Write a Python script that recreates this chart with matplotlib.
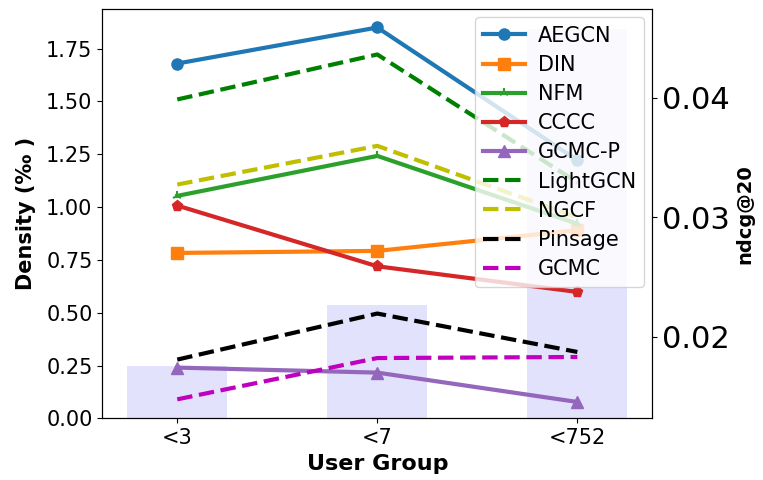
import matplotlib
matplotlib.use("Agg")
import matplotlib.pyplot as plt
import numpy as np

groups = ["<3", "<7", "<752"]
density = [0.247, 0.536, 1.845]

aegcn = [0.04288, 0.04590, 0.03478]
din = [0.02701, 0.02718, 0.02891]
nfm = [0.03179, 0.03514, 0.02945]
cccc = [0.03098, 0.02589, 0.02374]
gcmc_p = [0.01740, 0.01698, 0.01452]
lightgcn = [0.03987, 0.04364, 0.03292]
ngcf = [0.03274, 0.03598, 0.03000]
pinsage = [0.01807, 0.02193, 0.01871]
gcmc = [0.01474, 0.01820, 0.01829]

x = np.arange(len(groups))

fig = plt.figure(figsize=(7.63, 4.8), dpi=100)
ax = fig.add_axes([0.134, 0.1285, 0.721, 0.8525])
ax.bar(x, density, width=0.5, color="#e2e2fc")
ax.set_ylabel("Density (‰ )", fontsize=15, fontweight="bold", labelpad=7)
ax.set_xlabel("User Group", fontsize=16, fontweight="bold", labelpad=4)
ax.set_xticks(x)
ax.set_xticklabels(groups)
ax.tick_params(axis="both", labelsize=15)

ax2 = ax.twinx()
lw = 3
ax2.plot(x, aegcn, color="tab:blue", marker="o", lw=lw, ms=8, label="AEGCN")
ax2.plot(x, din, color="tab:orange", marker="s", lw=lw, ms=8, label="DIN")
ax2.plot(x, nfm, color="tab:green", marker="2", lw=lw, ms=7, mew=1.5, label="NFM")
ax2.plot(x, cccc, color="tab:red", marker="p", lw=lw, ms=8, label="CCCC")
ax2.plot(x, gcmc_p, color="tab:purple", marker="^", lw=lw, ms=9, label="GCMC-P")
ax2.plot(x, lightgcn, color="g", ls="--", lw=lw, label="LightGCN")
ax2.plot(x, ngcf, color="y", ls="--", lw=lw, label="NGCF")
ax2.plot(x, pinsage, color="k", ls="--", lw=lw, label="Pinsage")
ax2.plot(x, gcmc, color="m", ls="--", lw=lw, label="GCMC")
ax2.set_ylim(0.01315, 0.04744)
ax2.set_yticks([0.02, 0.03, 0.04])
ax2.tick_params(axis="y", labelsize=22)
ax2.set_ylabel("ndcg@20", fontsize=14, fontweight="bold")
ax2.legend(loc="upper right", fontsize=15, handlelength=2.0,
           borderaxespad=0.4, labelspacing=0.44, handletextpad=0.6)

fig.savefig("out.png", dpi=100)
